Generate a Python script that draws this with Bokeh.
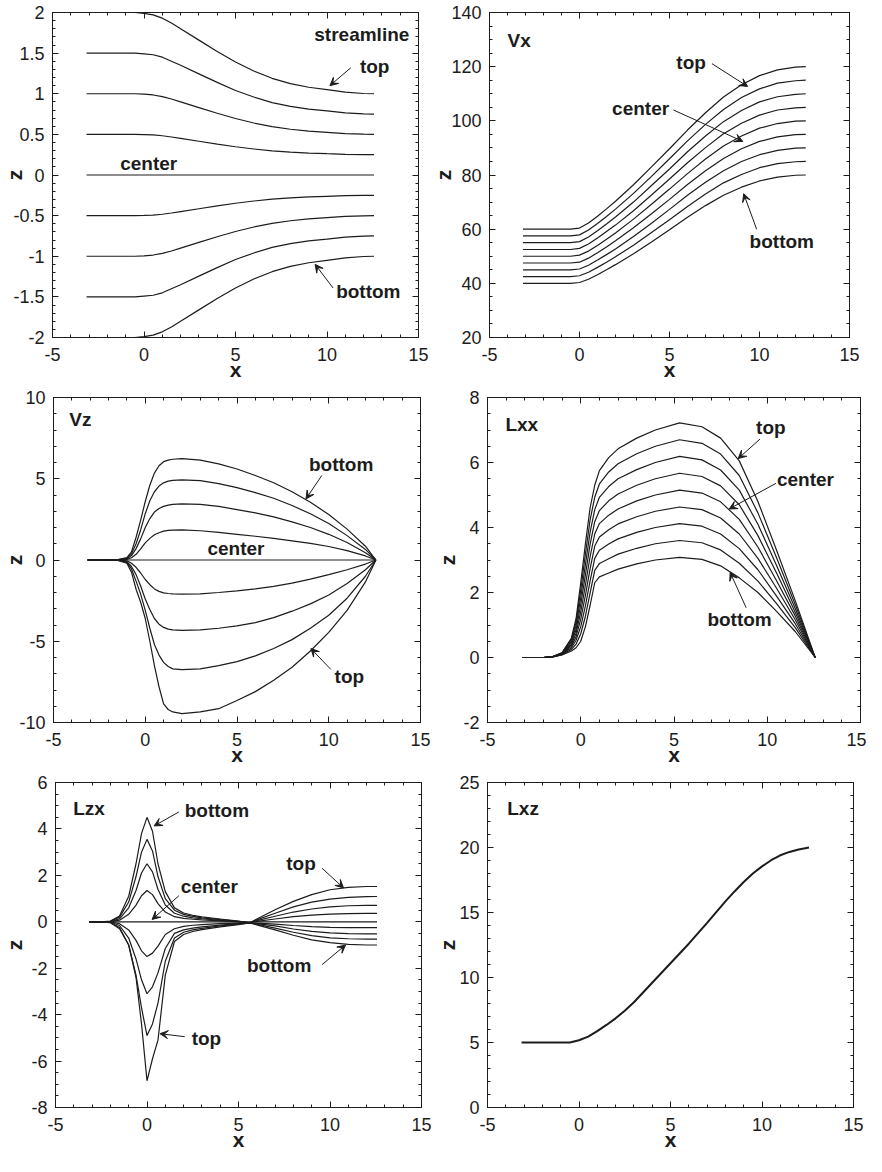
from bokeh.plotting import figure
from bokeh.models import (Range1d, LinearAxis, SingleIntervalTicker,
                          CustomJSTickFormatter, Label, Arrow, VeeHead)
from bokeh.layouts import column, row
from bokeh.embed import file_html
from bokeh.resources import INLINE

# ---------------------------------------------------------------- data
x_common = [-3.14, -2, -1, -0.5, 0, 0.5, 1, 1.5, 2, 3, 4, 5, 6, 7, 8, 9, 10, 11, 12, 12.57]

# streamline z positions (top -> bottom)
stream_p20 = [2, 2, 2, 2, 1.99, 1.97, 1.93, 1.87, 1.8, 1.66, 1.52, 1.39, 1.28, 1.19, 1.125, 1.08, 1.05, 1.02, 1.003, 1.0]
stream_p15 = [1.5, 1.5, 1.5, 1.5, 1.49, 1.48, 1.45, 1.4, 1.35, 1.245, 1.14, 1.04, 0.96, 0.89, 0.845, 0.81, 0.79, 0.765, 0.752, 0.75]
stream_p10 = [1, 1, 1, 1, 0.995, 0.985, 0.965, 0.935, 0.9, 0.83, 0.76, 0.695, 0.64, 0.595, 0.563, 0.54, 0.525, 0.51, 0.502, 0.5]
stream_p05 = [0.5, 0.5, 0.5, 0.5, 0.498, 0.493, 0.483, 0.468, 0.45, 0.415, 0.38, 0.348, 0.32, 0.298, 0.281, 0.27, 0.262, 0.255, 0.251, 0.25]
stream_c00 = [0, 0, 0, 0, 0, 0, 0, 0, 0, 0, 0, 0, 0, 0, 0, 0, 0, 0, 0, 0]
stream_m05 = [-0.5, -0.5, -0.5, -0.5, -0.498, -0.493, -0.483, -0.468, -0.45, -0.415, -0.38, -0.348, -0.32, -0.298, -0.281, -0.27, -0.262, -0.255, -0.251, -0.25]
stream_m10 = [-1, -1, -1, -1, -0.995, -0.985, -0.965, -0.935, -0.9, -0.83, -0.76, -0.695, -0.64, -0.595, -0.563, -0.54, -0.525, -0.51, -0.502, -0.5]
stream_m15 = [-1.5, -1.5, -1.5, -1.5, -1.49, -1.48, -1.45, -1.4, -1.35, -1.245, -1.14, -1.04, -0.96, -0.89, -0.845, -0.81, -0.79, -0.765, -0.752, -0.75]
stream_m20 = [-2, -2, -2, -2, -1.99, -1.97, -1.93, -1.87, -1.8, -1.66, -1.52, -1.39, -1.28, -1.19, -1.125, -1.08, -1.05, -1.02, -1.003, -1.0]

# Vx along each streamline
vx_600 = [60, 60, 60, 60, 60.4, 62.3, 64.8, 67.5, 70.3, 76.4, 83.0, 89.7, 96.6, 103.0, 108.8, 113.3, 116.7, 118.8, 119.8, 120]
vx_575 = [57.5, 57.5, 57.5, 57.5, 57.9, 59.7, 62.1, 64.7, 67.4, 73.2, 79.5, 86.0, 92.6, 98.7, 104.2, 108.6, 111.8, 113.9, 114.8, 115]
vx_550 = [55, 55, 55, 55, 55.4, 57.1, 59.4, 61.9, 64.5, 70.0, 76.1, 82.2, 88.6, 94.4, 99.7, 103.8, 107.0, 108.9, 109.8, 110]
vx_525 = [52.5, 52.5, 52.5, 52.5, 52.9, 54.5, 56.7, 59.1, 61.5, 66.8, 72.6, 78.5, 84.5, 90.1, 95.2, 99.1, 102.1, 104.0, 104.8, 105]
vx_500 = [50, 50, 50, 50, 50.4, 51.9, 54.0, 56.3, 58.6, 63.7, 69.2, 74.8, 80.5, 85.9, 90.7, 94.4, 97.3, 99.0, 99.9, 100]
vx_475 = [47.5, 47.5, 47.5, 47.5, 47.8, 49.3, 51.3, 53.4, 55.7, 60.5, 65.7, 71.0, 76.5, 81.6, 86.1, 89.7, 92.4, 94.1, 94.9, 95]
vx_450 = [45, 45, 45, 45, 45.3, 46.7, 48.6, 50.6, 52.7, 57.3, 62.2, 67.3, 72.5, 77.3, 81.6, 85.0, 87.5, 89.1, 89.9, 90]
vx_425 = [42.5, 42.5, 42.5, 42.5, 42.8, 44.1, 45.9, 47.8, 49.8, 54.1, 58.8, 63.5, 68.4, 73.0, 77.1, 80.2, 82.7, 84.2, 84.9, 85]
vx_400 = [40, 40, 40, 40, 40.3, 41.5, 43.2, 45.0, 46.9, 50.9, 55.3, 59.8, 64.4, 68.7, 72.5, 75.5, 77.8, 79.2, 79.9, 80]

# Vz
x_vz = [-3.14, -2, -1.5, -1, -0.75, -0.5, -0.25, 0, 0.25, 0.5, 0.75, 1, 1.25, 1.5, 2, 3, 4, 5, 6, 7, 8, 9, 10, 11, 12, 12.57]
vz_1 = [0, 0, 0.02, 0.15, 0.5, 1.4, 2.45, 3.6, 4.6, 5.35, 5.8, 6.05, 6.15, 6.2, 6.24, 6.15, 5.92, 5.6, 5.2, 4.75, 4.2, 3.55, 2.8, 1.9, 0.85, 0]
vz_2 = [0, 0, 0.01, 0.1, 0.38, 1.0, 1.85, 2.85, 3.65, 4.2, 4.55, 4.75, 4.85, 4.9, 4.93, 4.88, 4.7, 4.45, 4.15, 3.8, 3.35, 2.85, 2.25, 1.5, 0.65, 0]
vz_3 = [0, 0, 0.01, 0.07, 0.27, 0.7, 1.3, 2.0, 2.55, 2.95, 3.17, 3.3, 3.38, 3.42, 3.45, 3.42, 3.3, 3.1, 2.9, 2.65, 2.35, 2.0, 1.58, 1.08, 0.45, 0]
vz_4 = [0, 0, 0, 0.04, 0.14, 0.35, 0.68, 1.05, 1.33, 1.55, 1.68, 1.78, 1.82, 1.84, 1.85, 1.8, 1.7, 1.58, 1.46, 1.33, 1.18, 1.02, 0.83, 0.58, 0.25, 0]
vz_5 = [0, 0, 0, 0, 0, 0, 0, 0, 0, 0, 0, 0, 0, 0, 0, 0, 0, 0, 0, 0, 0, 0, 0, 0, 0, 0]
vz_6 = [0, 0, 0, -0.05, -0.2, -0.45, -0.8, -1.2, -1.52, -1.78, -1.93, -2.02, -2.06, -2.09, -2.1, -2.08, -2.0, -1.9, -1.78, -1.62, -1.42, -1.18, -0.9, -0.6, -0.25, 0]
vz_7 = [0, 0, -0.01, -0.1, -0.4, -0.9, -1.6, -2.4, -3.05, -3.6, -3.95, -4.15, -4.25, -4.3, -4.33, -4.3, -4.2, -4.05, -3.85, -3.55, -3.15, -2.7, -2.15, -1.45, -0.6, 0]
vz_8 = [0, 0, -0.01, -0.15, -0.55, -1.3, -2.1, -3.1, -4.2, -5.2, -5.85, -6.3, -6.55, -6.7, -6.75, -6.7, -6.5, -6.25, -5.9, -5.45, -4.9, -4.2, -3.4, -2.35, -1.0, 0]
vz_9 = [0, 0, -0.02, -0.2, -0.75, -1.8, -2.6, -3.6, -5.0, -6.5, -7.8, -8.85, -9.2, -9.35, -9.45, -9.35, -9.15, -8.65, -8.1, -7.4, -6.6, -5.6, -4.45, -3.1, -1.35, 0]

# Lxx
x_lxx = [-3.14, -2, -1.5, -1, -0.5, -0.25, 0, 0.25, 0.5, 0.75, 1, 1.5, 2, 3, 4, 5.3, 6.5, 7.5, 8.5, 9.5, 10.5, 11.5, 12.57]
lxx_1 = [0, 0, 0.03, 0.15, 0.6, 1.2, 2.3, 3.5, 4.6, 5.3, 5.75, 6.15, 6.42, 6.75, 7.0, 7.22, 7.1, 6.75, 6.05, 4.8, 3.3, 1.75, 0]
lxx_2 = [0, 0, 0.03, 0.14, 0.55, 1.09, 2.08, 3.18, 4.23, 4.93, 5.34, 5.71, 5.96, 6.27, 6.5, 6.7, 6.59, 6.26, 5.6, 4.45, 3.07, 1.63, 0]
lxx_3 = [0, 0, 0.03, 0.13, 0.5, 0.98, 1.85, 2.86, 3.85, 4.55, 4.93, 5.26, 5.5, 5.78, 6.0, 6.19, 6.08, 5.77, 5.15, 4.1, 2.83, 1.51, 0]
lxx_4 = [0, 0, 0.03, 0.12, 0.45, 0.86, 1.63, 2.54, 3.48, 4.18, 4.52, 4.82, 5.03, 5.3, 5.5, 5.67, 5.57, 5.28, 4.7, 3.75, 2.6, 1.39, 0]
lxx_5 = [0, 0, 0.03, 0.12, 0.4, 0.75, 1.4, 2.23, 3.1, 3.8, 4.12, 4.38, 4.57, 4.82, 5.0, 5.15, 5.06, 4.79, 4.25, 3.4, 2.36, 1.28, 0]
lxx_6 = [0, 0, 0.02, 0.11, 0.35, 0.64, 1.18, 1.91, 2.73, 3.43, 3.71, 3.93, 4.11, 4.33, 4.5, 4.63, 4.55, 4.29, 3.8, 3.05, 2.13, 1.16, 0]
lxx_7 = [0, 0, 0.02, 0.1, 0.3, 0.53, 0.95, 1.59, 2.35, 3.05, 3.3, 3.49, 3.65, 3.85, 4.0, 4.12, 4.04, 3.8, 3.35, 2.7, 1.89, 1.04, 0]
lxx_8 = [0, 0, 0.02, 0.09, 0.25, 0.41, 0.73, 1.27, 1.98, 2.68, 2.89, 3.04, 3.18, 3.36, 3.5, 3.6, 3.53, 3.31, 2.9, 2.35, 1.66, 0.92, 0]
lxx_9 = [0, 0, 0.02, 0.08, 0.2, 0.3, 0.5, 0.95, 1.6, 2.3, 2.48, 2.6, 2.72, 2.88, 3.0, 3.08, 3.02, 2.82, 2.45, 2.0, 1.42, 0.8, 0]

# Lzx
x_lzx = [-3.14, -2.5, -2, -1.5, -1, -0.6, -0.3, 0, 0.3, 0.6, 1, 1.5, 2, 2.5, 3, 4, 5, 5.6, 6, 7, 8, 9, 10, 11, 12, 12.57]
lzx_1 = [0, 0, 0.03, 0.25, 1.1, 2.5, 3.8, 4.5, 3.9, 2.5, 1.3, 0.6, 0.38, 0.28, 0.21, 0.12, 0.03, -0.05, -0.13, -0.35, -0.58, -0.78, -0.9, -0.97, -1.0, -1.0]
lzx_2 = [0, 0, 0.02, 0.2, 0.85, 1.95, 3.0, 3.55, 3.05, 1.95, 1.0, 0.5, 0.32, 0.23, 0.17, 0.09, 0.02, -0.05, -0.1, -0.27, -0.45, -0.6, -0.69, -0.73, -0.75, -0.75]
lzx_3 = [0, 0, 0.01, 0.13, 0.6, 1.35, 2.1, 2.5, 2.15, 1.4, 0.72, 0.37, 0.24, 0.17, 0.13, 0.06, 0.01, -0.05, -0.08, -0.18, -0.31, -0.41, -0.48, -0.51, -0.52, -0.52]
lzx_4 = [0, 0, 0.01, 0.07, 0.32, 0.72, 1.12, 1.35, 1.17, 0.78, 0.42, 0.22, 0.15, 0.11, 0.08, 0.04, 0.0, -0.05, -0.06, -0.1, -0.16, -0.21, -0.24, -0.25, -0.25, -0.25]
lzx_5 = [0, 0, 0, 0, 0, 0, 0, 0, 0, 0, 0, 0, 0, 0, 0, 0, 0, 0, 0, 0, 0, 0, 0, 0, 0, 0]
lzx_6 = [0, 0, -0.01, -0.08, -0.35, -0.8, -1.25, -1.5, -1.35, -1.05, -0.55, -0.3, -0.2, -0.15, -0.12, -0.08, -0.06, -0.05, 0.02, 0.12, 0.22, 0.29, 0.33, 0.35, 0.36, 0.36]
lzx_7 = [0, 0, -0.02, -0.16, -0.7, -1.6, -2.5, -3.1, -2.8, -2.2, -1.15, -0.5, -0.35, -0.27, -0.22, -0.14, -0.08, -0.05, 0.05, 0.24, 0.42, 0.55, 0.64, 0.69, 0.71, 0.71]
lzx_8 = [0, 0, -0.03, -0.25, -1.0, -2.3, -3.7, -4.9, -4.4, -3.5, -1.7, -0.7, -0.45, -0.35, -0.28, -0.18, -0.1, -0.05, 0.08, 0.37, 0.64, 0.85, 0.98, 1.05, 1.08, 1.09]
lzx_9 = [0, 0, -0.04, -0.3, -1.0, -2.4, -4.4, -6.85, -5.9, -5.1, -2.3, -0.85, -0.55, -0.42, -0.34, -0.22, -0.12, -0.05, 0.12, 0.52, 0.88, 1.17, 1.38, 1.48, 1.52, 1.52]

# Lxz
x_lxz = [-3.14, -2, -1, -0.5, 0, 0.5, 1, 1.5, 2, 2.5, 3, 4, 5, 6, 7, 8, 8.5, 9, 9.5, 10, 10.5, 11, 11.5, 12, 12.57]
lxz_1 = [5, 5, 5, 5, 5.17, 5.45, 5.87, 6.35, 6.86, 7.45, 8.1, 9.6, 11.1, 12.6, 14.2, 15.85, 16.62, 17.35, 18.0, 18.55, 19.02, 19.4, 19.66, 19.85, 20]

# ---------------------------------------------------------------- style
FONT = "Liberation Sans"
INK = "#1c1c1c"
TICK_FMT = "return String(Math.round(tick*1000)/1000);"


def style_axis(ax, labels, standoff, title=None, title_standoff=0):
    ax.axis_line_color = INK
    ax.axis_line_width = 1
    ax.major_tick_in = 6
    ax.major_tick_out = 0
    ax.minor_tick_in = 3
    ax.minor_tick_out = 0
    ax.major_tick_line_color = INK
    ax.minor_tick_line_color = INK
    if labels:
        ax.major_label_text_font = FONT
        ax.major_label_text_font_size = "18px"
        ax.major_label_text_color = INK
        ax.major_label_standoff = standoff
        ax.formatter = CustomJSTickFormatter(code=TICK_FMT)
        ax.axis_label = title
        ax.axis_label_text_font = FONT
        ax.axis_label_text_font_size = "21px"
        ax.axis_label_text_font_style = "bold"
        ax.axis_label_text_color = INK
        ax.axis_label_standoff = title_standoff
    else:
        ax.major_label_text_font_size = "0px"
        ax.major_label_standoff = 0
        ax.formatter = CustomJSTickFormatter(code="return '';")


def panel(w, h, left, right, top, bottom, ylo, yhi, yint, yminor, zoff):
    p = figure(width=w, height=h, x_range=Range1d(-5, 15), y_range=Range1d(ylo, yhi),
               output_backend="svg", toolbar_location=None,
               x_axis_type=None, y_axis_type=None,
               min_border_left=left, min_border_right=right,
               min_border_top=top, min_border_bottom=bottom)
    p.outline_line_color = INK
    p.outline_line_width = 1
    p.background_fill_color = "white"
    p.border_fill_color = "white"
    for side in ("below", "above"):
        ax = LinearAxis(ticker=SingleIntervalTicker(interval=5, num_minor_ticks=5))
        style_axis(ax, side == "below", 10, "x", -6)
        p.add_layout(ax, side)
    for side in ("left", "right"):
        ax = LinearAxis(ticker=SingleIntervalTicker(interval=yint, num_minor_ticks=yminor))
        style_axis(ax, side == "left", 8, "z", zoff)
        p.add_layout(ax, side)
    return p


def note(p, x, y, s, align="left"):
    p.add_layout(Label(x=x, y=y, text=s, text_font=FONT, text_font_size="19px",
                       text_font_style="bold", text_color=INK, text_align=align,
                       text_baseline="middle"))


def arrow(p, x0, y0, x1, y1):
    p.add_layout(Arrow(end=VeeHead(size=8, line_color=INK, fill_color=INK, line_width=1),
                       x_start=x0, y_start=y0, x_end=x1, y_end=y1,
                       line_color=INK, line_width=1))


def curves(p, xs, series, lw=1.2):
    for ys in series:
        p.line(xs, ys, line_color=INK, line_width=lw)


H = 385

# ---------------------------------------------------------------- panel 1: streamline
p1 = panel(429, H, 50, 11, 12, 48, -2, 2, 0.5, 5, -16)
curves(p1, x_common, [stream_p20, stream_p15, stream_p10, stream_p05, stream_c00,
                      stream_m05, stream_m10, stream_m15, stream_m20])
note(p1, 14.5, 1.73, "streamline", align="right")
note(p1, 11.8, 1.33, "top")
arrow(p1, 11.3, 1.32, 10.16, 1.1)
note(p1, -1.3, 0.14, "center")
note(p1, 10.5, -1.43, "bottom")
arrow(p1, 10.33, -1.39, 9.35, -1.1)

# ---------------------------------------------------------------- panel 2: Vx
p2 = panel(437, H, 56, 17, 12, 48, 20, 140, 20, 4, -7)
curves(p2, x_common, [vx_600, vx_575, vx_550, vx_525, vx_500, vx_475, vx_450, vx_425, vx_400])
note(p2, -4.0, 129.8, "Vx")
note(p2, 5.38, 121.5, "top")
arrow(p2, 7.36, 121.1, 9.34, 112.7)
note(p2, 1.81, 104.4, "center")
arrow(p2, 5.22, 104.0, 9.07, 92.4)
note(p2, 9.45, 55.3, "bottom")
arrow(p2, 9.84, 60.0, 9.12, 73.1)

# ---------------------------------------------------------------- panel 3: Vz
p3 = panel(433, H, 48, 13, 12, 48, -10, 10, 5, 5, -10)
curves(p3, x_vz, [vz_1, vz_2, vz_3, vz_4, vz_5, vz_6, vz_7, vz_8, vz_9])
note(p3, -4.14, 8.67, "Vz")
note(p3, 8.92, 5.88, "bottom")
arrow(p3, 9.62, 5.2, 8.76, 3.76)
note(p3, 3.39, 0.73, "center")
note(p3, 10.32, -7.15, "top")
arrow(p3, 10.11, -6.73, 9.03, -5.45)

# ---------------------------------------------------------------- panel 4: Lxx
p4 = panel(433, H, 52, 6, 12, 48, -2, 8, 2, 4, 1)
curves(p4, x_lxx, [lxx_1, lxx_2, lxx_3, lxx_4, lxx_5, lxx_6, lxx_7, lxx_8, lxx_9])
note(p4, -4.04, 7.18, "Lxx")
note(p4, 9.4, 7.09, "top")
arrow(p4, 9.61, 6.72, 8.44, 6.12)
note(p4, 10.52, 5.48, "center")
arrow(p4, 10.47, 5.36, 7.96, 4.57)
note(p4, 6.79, 1.16, "bottom")
arrow(p4, 8.87, 1.53, 8.01, 2.62)

# ---------------------------------------------------------------- panel 5: Lzx
p5 = panel(433, H, 50, 12, 12, 48, -8, 6, 2, 4, 2)
curves(p5, x_lzx, [lzx_1, lzx_2, lzx_3, lzx_4, lzx_5, lzx_6, lzx_7, lzx_8, lzx_9])
note(p5, -4.03, 4.9, "Lzx")
note(p5, 2.06, 4.81, "bottom")
arrow(p5, 1.74, 4.73, 0.39, 4.13)
note(p5, 1.85, 1.5, "center")
arrow(p5, 1.74, 1.12, 0.28, 0.1)
note(p5, 2.44, -5.03, "top")
arrow(p5, 2.06, -4.95, 0.71, -4.82)
note(p5, 7.61, 2.52, "top")
arrow(p5, 9.56, 2.31, 10.74, 1.46)
note(p5, 5.46, -1.89, "bottom")
arrow(p5, 9.56, -1.85, 10.85, -1.0)

# ---------------------------------------------------------------- panel 6: Lxz
p6 = panel(433, H, 50, 13, 12, 48, 0, 25, 5, 5, -3)
curves(p6, x_lxz, [lxz_1], lw=2.0)
note(p6, -3.92, 22.98, "Lxz")

layout = column(row(p1, p2), row(p3, p4), row(p5, p6))

with open("out.html", "w") as f:
    f.write(file_html(layout, INLINE, "Flow fields"))
